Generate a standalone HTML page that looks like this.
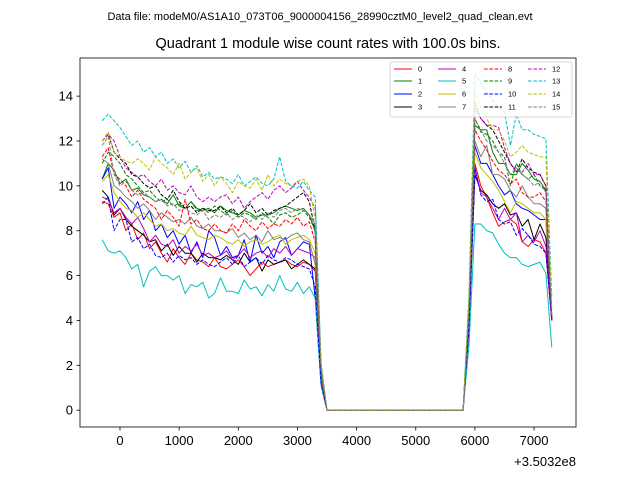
<!DOCTYPE html>
<html><head><meta charset="utf-8"><style>
body{margin:0;background:#fff;}
svg{display:block;font-family:"Liberation Sans","DejaVu Sans",sans-serif;}
</style></head><body>
<svg id="chart" width="640" height="480">
<text x="320" y="20" font-size="11" text-anchor="middle">Data file: modeM0/AS1A10_073T06_9000004156_28990cztM0_level2_quad_clean.evt</text>
<text x="328" y="48" font-size="14.5" text-anchor="middle">Quadrant 1 module wise count rates with 100.0s bins.</text>
<g id="plot"></g>
<g id="axes"></g>
<text x="576" y="466" font-size="13" text-anchor="end">+3.5032e8</text>
<g id="legend"></g>
</svg>
<script>
const xStart = -300, xStep = 100;
const xTicks = [0,1000,2000,3000,4000,5000,6000,7000];
const yTicks = [0,2,4,6,8,10,12,14];
const seriesNames = ["0","1","2","3","4","5","6","7","8","9","10","11","12","13","14","15"];
const gapZeros = [0,0,0,0,0,0,0,0,0,0,0,0,0,0,0,0,0,0,0,0,0,0,0,0];
const pre0=[9.3,9.2,8.6,8.8,8.0,8.3,7.6,7.9,7.2,7.5,7.0,6.6,7.2,6.8,6.5,7.0,6.7,6.6,6.4,6.8,6.4,6.3,6.5,6.7,6.4,6.0,6.3,6.6,6.4,6.5,6.6,6.7,6.5,6.4,6.6,6.5,6.2];
const pre1=[10.3,11.0,10.7,10.1,10.3,9.8,9.9,9.6,9.5,9.3,9.4,9.2,9.6,9.1,9.0,9.3,9.0,8.9,9.0,8.8,9.1,8.9,8.8,8.7,8.9,8.8,8.6,8.7,8.7,8.8,9.0,9.1,9.0,8.9,9.0,8.7,8.0];
const pre2=[10.3,10.8,9.0,9.5,9.2,8.8,9.3,8.5,8.9,8.0,8.3,7.7,8.0,7.4,7.8,7.0,7.5,6.8,8.0,7.7,6.9,7.3,6.8,6.9,7.6,6.6,7.8,7.0,7.3,6.8,7.5,7.7,6.9,7.2,7.5,7.4,5.0];
const pre3=[9.8,9.5,8.7,9.0,8.5,8.2,8.0,7.8,7.5,7.6,7.1,7.4,6.9,7.3,7.0,7.0,6.6,7.0,6.8,6.8,6.7,6.9,6.7,6.5,7.0,6.6,6.8,6.2,6.7,6.5,6.6,6.7,6.3,6.5,6.7,6.5,6.3];
const pre4=[9.5,9.4,8.8,9.0,8.6,8.3,8.6,8.1,7.5,7.8,7.4,7.3,7.6,7.0,7.3,7.1,7.4,6.9,7.0,6.8,6.9,7.1,6.7,6.9,7.2,6.8,7.0,7.1,6.8,7.2,7.0,7.3,6.9,7.2,7.1,7.0,6.8];
const pre5=[7.6,7.1,7.0,7.1,6.8,6.3,6.5,5.5,6.2,6.4,6.0,6.0,5.8,6.0,5.2,5.6,5.5,5.7,5.0,5.2,5.9,5.3,5.3,5.2,5.8,5.4,5.5,5.1,5.6,5.3,6.0,5.4,5.3,5.7,5.2,5.5,5.0];
const pre6=[10.2,10.5,9.7,9.3,9.0,8.9,8.6,8.8,8.5,8.2,8.3,8.0,8.1,7.9,7.8,8.2,7.8,7.7,7.6,7.8,7.7,7.5,7.4,7.6,7.3,7.5,7.6,7.4,7.5,7.7,7.8,7.4,7.6,7.7,7.8,7.6,7.0];
const pre7=[11.2,11.0,10.0,9.8,9.5,9.3,9.0,9.2,8.9,8.5,8.8,8.6,8.4,8.5,8.3,8.6,8.2,8.1,8.3,8.0,8.0,7.9,8.1,7.7,7.9,7.6,7.8,7.5,8.0,7.6,7.7,7.6,7.8,7.9,7.6,7.5,6.5];
const pre8=[11.3,11.7,10.5,10.3,10.0,9.5,9.8,9.4,9.2,9.0,8.5,8.9,8.6,8.2,9.4,8.3,8.5,8.1,8.0,8.3,8.0,7.9,8.3,8.0,8.5,8.2,8.0,8.4,8.1,8.3,8.2,8.5,8.3,8.6,8.2,8.4,7.5];
const pre9=[11.0,11.5,11.3,11.0,10.5,10.3,10.0,9.7,9.8,9.5,9.3,9.4,9.1,9.2,9.0,9.3,8.9,9.0,8.8,9.1,8.9,8.7,8.9,8.6,8.8,8.7,8.5,8.8,8.6,8.3,8.7,8.8,8.6,8.7,8.9,8.6,8.0];
const pre10=[9.2,9.5,8.0,8.5,8.5,7.5,7.7,7.2,7.4,6.9,6.8,7.0,6.6,6.9,6.7,6.8,6.5,6.7,6.5,6.4,6.6,6.8,6.5,6.9,6.4,6.6,6.8,6.5,6.9,6.7,6.6,6.8,6.7,6.5,6.4,6.3,5.5];
const pre11=[12.0,12.3,11.5,11.2,11.0,10.5,10.4,10.1,9.9,10.0,9.6,9.4,9.8,9.3,9.0,9.1,8.8,9.0,8.9,8.9,9.1,8.8,9.0,8.7,8.9,9.2,8.8,9.0,8.7,8.9,9.0,9.1,9.3,9.5,9.7,9.3,8.0];
const pre12=[12.0,12.3,12.0,11.3,10.8,10.6,10.4,10.5,10.2,10.0,10.3,9.8,10.0,9.7,9.6,10.0,9.5,9.3,9.5,9.3,9.5,9.6,9.2,9.5,9.0,9.3,9.5,9.7,9.4,9.8,10.0,9.7,9.9,10.2,9.8,9.5,9.0];
const pre13=[12.9,13.2,12.9,12.6,12.2,11.8,12.0,11.5,11.7,11.3,11.5,11.0,11.2,10.8,11.1,10.6,10.9,10.4,10.6,10.3,10.4,10.3,10.1,10.5,10.0,10.2,10.4,10.1,10.0,10.3,11.3,10.2,10.0,9.9,10.2,9.8,9.5];
const pre14=[12.0,12.4,11.5,11.3,11.1,11.0,11.2,11.0,10.7,11.3,11.0,10.8,10.5,11.0,10.3,10.6,10.8,10.2,10.5,10.0,10.4,10.1,9.7,10.2,10.0,9.9,10.3,9.8,10.5,10.0,10.3,10.1,10.0,10.2,10.3,10.0,8.5];
const pre15=[11.8,12.2,10.5,10.0,10.2,9.8,9.6,9.7,9.5,9.3,9.4,9.1,9.2,8.9,9.0,8.8,8.7,8.9,8.5,8.7,8.6,8.8,8.5,8.7,8.6,8.4,8.7,8.5,8.8,8.6,8.9,9.0,8.8,9.0,8.9,8.7,8.3];
const drop3400=[1.4,1.8,1.1,1.4,1.5,1.1,1.5,1.4,1.6,1.8,1.2,1.8,2.0,2.1,1.9,1.8];
const rise5900=[3.8,4.4,4.1,3.6,3.8,2.9,4.0,4.2,4.4,4.5,3.8,4.7,4.8,5.2,5.0,4.5];
const post0=[11.0,10.0,9.5,8.8,8.2,8.4,8.5,8.3,7.5,7.3,7.6,7.5,7.0,4.0];
const post1=[12.7,12.5,12.5,11.5,11.0,11.0,10.5,10.5,11.0,10.7,10.3,10.2,9.8,4.0];
const post2=[11.8,11.0,11.0,10.5,10.0,9.6,9.8,9.2,9.0,8.9,8.7,8.5,8.5,4.0];
const post3=[10.5,9.8,9.6,9.2,9.0,9.2,8.7,8.8,8.2,8.5,7.6,8.3,7.7,4.0];
const post4=[10.8,9.7,9.5,9.0,8.5,9.0,8.5,8.8,7.5,7.8,7.5,8.0,7.3,4.0];
const post5=[8.3,8.3,8.0,7.9,7.4,7.0,6.8,6.8,6.5,6.4,6.5,6.6,6.1,2.8];
const post6=[11.5,10.8,10.5,10.2,9.8,9.3,8.8,9.3,9.2,9.0,8.8,8.8,8.5,4.5];
const post7=[12.0,11.3,11.8,10.5,10.5,10.3,9.8,9.5,10.0,9.5,9.2,9.2,9.0,4.0];
const post8=[12.5,12.0,11.6,11.1,10.7,10.5,10.1,10.3,9.7,9.5,9.5,9.7,9.3,4.2];
const post9=[13.0,12.4,12.3,12.0,11.5,11.3,10.0,11.0,10.5,10.3,10.5,10.0,9.8,4.0];
const post10=[10.8,9.6,9.3,9.4,8.5,8.3,8.4,7.8,8.1,7.8,7.4,7.3,7.0,4.0];
const post11=[13.5,13.0,12.7,12.5,12.0,11.5,11.0,10.6,11.2,10.8,10.6,10.5,10.0,4.0];
const post12=[13.8,13.0,12.7,12.7,12.6,11.7,11.0,10.7,10.6,11.0,10.5,10.5,10.0,4.0];
const post13=[15.0,14.6,14.2,13.8,13.5,13.3,11.8,13.2,12.5,12.5,12.3,12.2,12.1,5.0];
const post14=[14.2,13.5,13.0,12.5,12.5,12.0,11.3,11.5,11.8,11.5,11.4,11.3,11.3,4.5];
const post15=[13.0,12.5,12.0,11.8,11.5,11.0,10.5,10.8,10.5,10.3,10.0,10.2,9.7,4.2];

const preAll=[pre0,pre1,pre2,pre3,pre4,pre5,pre6,pre7,pre8,pre9,pre10,pre11,pre12,pre13,pre14,pre15];
const postAll=[post0,post1,post2,post3,post4,post5,post6,post7,post8,post9,post10,post11,post12,post13,post14,post15];
const colors=["#ff0000","#008000","#0000ff","#000000","#bf00bf","#00bfbf","#bfbf00","#808080"];

const NS="http://www.w3.org/2000/svg";
const L=80,R=576,T=58,B=427;
const X0=-676,X1=7709,Y0=-0.75,Y1=15.7;
function xs(v){return L+(v-X0)/(X1-X0)*(R-L);}
function ys(v){return B-(v-Y0)/(Y1-Y0)*(B-T);}
function mk(tag,attrs,parent){const e=document.createElementNS(NS,tag);for(const k in attrs)e.setAttribute(k,attrs[k]);parent.appendChild(e);return e;}

const plot=document.getElementById('plot');
const axes=document.getElementById('axes');
const legend=document.getElementById('legend');

for(let s=0;s<16;s++){
  const vals=[].concat(preAll[s],[drop3400[s]],gapZeros,[rise5900[s]],postAll[s]);
  const pts=vals.map((v,i)=>xs(xStart+i*xStep).toFixed(1)+","+ys(v).toFixed(1)).join(" ");
  const pl=mk('polyline',{points:pts,fill:"none",stroke:colors[s%8],"stroke-width":1,"stroke-linejoin":"round"},plot);
  if(s>=8)pl.setAttribute('stroke-dasharray','3.7,1.6');
  
  
}

const frame=mk('rect',{x:L,y:T,width:R-L,height:B-T,fill:"none",stroke:"#000","stroke-width":0.8},axes);


xTicks.forEach(t=>{
  const x=xs(t);
  const tk=mk('line',{x1:x,x2:x,y1:B,y2:B+3.5,stroke:"#000","stroke-width":0.8},axes);
  
  
  const tx=mk('text',{x:x,y:B+18,"font-size":13,"text-anchor":"middle"},axes);
  tx.textContent=t;
  
  
});
yTicks.forEach(t=>{
  const y=ys(t);
  const tk=mk('line',{x1:L-3.5,x2:L,y1:y,y2:y,stroke:"#000","stroke-width":0.8},axes);
  
  
  const tx=mk('text',{x:L-7,y:y+4.5,"font-size":13,"text-anchor":"end"},axes);
  tx.textContent=t;
  
  
});

const box=mk('rect',{x:390,y:62,width:182,height:55,rx:2,fill:"#fff","fill-opacity":0.8,stroke:"#ccc","stroke-width":0.8},legend);


const colX=[394,438,484,528], rowY=[69,81,94,107];
for(let s=0;s<16;s++){
  const c=Math.floor(s/4), r=s%4;
  const g=mk('g',{},legend);
  
  
  const ln=mk('line',{x1:colX[c],x2:colX[c]+18,y1:rowY[r],y2:rowY[r],stroke:colors[s%8],"stroke-width":1},g);
  if(s>=8)ln.setAttribute('stroke-dasharray','3.7,1.6');
  const tx=mk('text',{x:colX[c]+24,y:rowY[r]+2.5,"font-size":7.5},g);
  tx.textContent=seriesNames[s];
}
</script>
</body></html>
